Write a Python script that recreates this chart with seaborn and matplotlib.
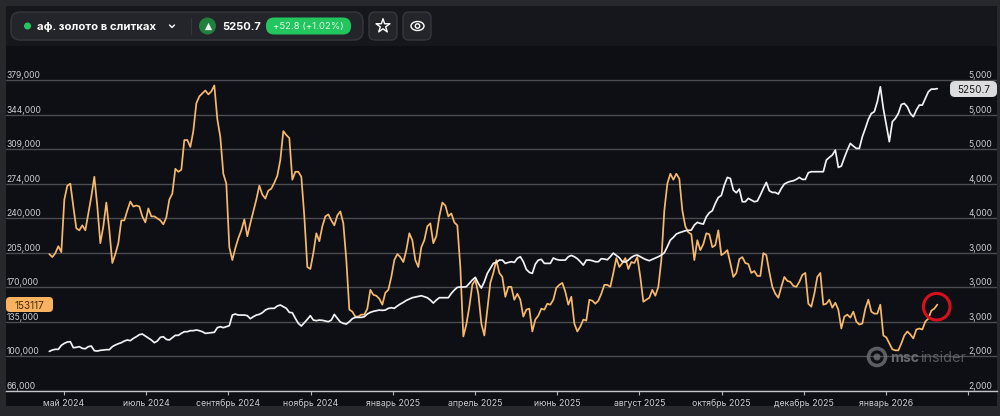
import numpy as np
import seaborn as sns
from matplotlib import pyplot as plt
from matplotlib.patches import Circle, Ellipse, FancyBboxPatch, Rectangle

# ETF holdings, thousands (left axis), one value per step
holdings_a = [204, 201, 205, 212, 206, 259, 273, 275, 252, 230, 228, 233, 228, 245, 262, 282, 252, 215, 232, 256,
              228, 195, 204, 215, 238, 238, 248, 257, 252, 253, 252, 242, 236, 250, 242, 242, 240, 238, 234, 241,
              259, 265, 290, 287, 289, 319, 319, 312, 328, 356, 363, 366, 369, 365, 368, 374, 340, 322, 285, 275,
              211, 198, 210, 220, 228, 239, 222, 235, 247, 259, 273, 264, 260, 268, 270, 276, 283, 299, 328, 324,
              321, 279, 287, 287, 282, 242, 191, 189, 205, 225, 217, 232, 242, 244, 238, 233, 243]
holdings_b = [247, 235, 198, 148, 146, 141, 141, 143, 143, 149, 168, 163, 162, 159, 153, 165, 168, 181, 198, 204,
              201, 196, 208, 225, 218, 198, 191, 211, 218, 232, 235, 215, 222, 242, 256, 253, 242, 245, 236, 233,
              191, 121, 133, 151, 173, 178, 164, 134, 122, 148, 175, 185, 198, 185, 181, 161, 171, 171, 158, 164,
              158, 141, 148, 149, 126, 138, 142, 149, 148, 154, 153, 158, 170, 173, 175, 166, 153, 161, 134, 126,
              131, 138, 137, 158, 157, 154, 157, 164, 173, 173, 171, 185, 200, 191, 195, 200, 189, 196, 195, 201,
              181, 156, 158, 160, 168, 162, 171, 198, 248, 275]
holdings_c = [285, 279, 285, 280, 248, 232, 226, 224, 198, 218, 208, 214, 225, 224, 211, 213, 228, 203, 205, 208,
              195, 181, 185, 199, 201, 195, 194, 185, 187, 182, 182, 205, 203, 186, 171, 164, 160, 171, 181, 177,
              176, 172, 171, 176, 183, 185, 154, 151, 164, 181, 185, 153, 154, 158, 150, 155, 148, 129, 141, 143,
              140, 146, 136, 133, 134, 149, 158, 146, 144, 144, 153, 122, 120, 114, 108, 107, 107, 114, 122, 126,
              123, 119, 128, 129, 128, 136, 139, 147, 149, 153.117]

# gold price (right axis)
price_a = [2206, 2222, 2230, 2230, 2276, 2299, 2315, 2318, 2249, 2253, 2261, 2241, 2237, 2261, 2268, 2214, 2210, 2218,
           2222, 2226, 2226, 2261, 2280, 2295, 2307, 2326, 2338, 2330, 2357, 2376, 2400, 2407, 2384, 2361, 2338, 2307,
           2326, 2369, 2376, 2345, 2338, 2365, 2392, 2392, 2415, 2434, 2434, 2446, 2446, 2454, 2446, 2434, 2415, 2419,
           2423, 2427, 2481, 2492, 2481, 2492, 2504, 2627, 2639, 2627, 2627, 2627, 2620, 2585, 2608, 2627, 2635, 2654,
           2685, 2701, 2705, 2705, 2732, 2743, 2724, 2705, 2658, 2654, 2589, 2531, 2500, 2538, 2577, 2620, 2569, 2562,
           2569, 2566, 2558, 2550, 2569, 2635, 2589]
price_b = [2546, 2531, 2523, 2550, 2585, 2600, 2600, 2600, 2608, 2639, 2658, 2670, 2677, 2685, 2681, 2685, 2705, 2712,
           2705, 2732, 2755, 2774, 2797, 2813, 2828, 2836, 2844, 2851, 2840, 2828, 2801, 2766, 2801, 2828, 2828, 2828,
           2828, 2878, 2917, 2948, 2952, 2952, 2955, 2994, 3033, 3064, 2994, 2940, 3013, 3110, 3168, 3226, 3237, 3264,
           3264, 3226, 3237, 3245, 3237, 3284, 3303, 3245, 3156, 3122, 3110, 3218, 3264, 3272, 3226, 3226, 3226, 3288,
           3272, 3264, 3264, 3264, 3303, 3318, 3303, 3280, 3245, 3206, 3264, 3264, 3257, 3245, 3245, 3280, 3276, 3268,
           3303, 3345, 3318, 3291, 3245, 3241, 3264, 3295, 3315, 3322, 3303, 3284, 3268, 3257, 3272, 3288, 3303, 3322,
           3349, 3419]
price_c = [3496, 3527, 3566, 3581, 3593, 3604, 3608, 3612, 3670, 3701, 3689, 3681, 3766, 3813, 3836, 3921, 3990, 4013,
           4133, 4222, 4210, 4075, 4044, 4087, 3940, 3940, 3979, 3959, 3940, 3948, 4017, 4094, 4164, 4067, 4048, 4048,
           4029, 4094, 4145, 4164, 4176, 4183, 4199, 4222, 4199, 4199, 4276, 4288, 4288, 4288, 4288, 4288, 4423, 4454,
           4481, 4539, 4338, 4353, 4450, 4539, 4616, 4585, 4558, 4558, 4693, 4790, 4894, 4963, 4983, 5100, 5272, 5021,
           4828, 4636, 4867, 4905, 4963, 5067, 5079, 5040, 4963, 4925, 5002, 5060, 5060, 5137, 5214, 5245, 5245, 5250.7]

month_labels = ["май 2024", "июль 2024", "сентябрь 2024", "ноябрь 2024", "январь 2025", "апрель 2025",
                "июнь 2025", "август 2025", "октябрь 2025", "декабрь 2025", "январь 2026", ""]
left_ticks = [66000, 100800, 135600, 170400, 205200, 240000, 274800, 309600, 344400, 379200]
right_ticks = [1747, 2147, 2547, 2947, 3347, 3747, 4147, 4547, 4947, 5347]

holdings = np.array(holdings_a + holdings_b + holdings_c) * 1000
price = np.array(price_a + price_b + price_c)
days = np.arange(len(holdings))
tick_pos = 4.9 + 27.4 * np.arange(len(month_labels))

ORANGE = "#f6b96b"
WHITE = "#f1f1f3"
LABEL = "#cfcfd2"
GRID = "#4b4c50"

sns.set_theme(style="dark")
plt.rcParams["font.family"] = ["Inter", "DejaVu Sans"]

fig = plt.figure(figsize=(10, 4.16), dpi=100, facecolor="#27282c")

# whole-figure layer in pixels for panels and header
bg = fig.add_axes([0, 0, 1, 1], zorder=0)
bg.set_xlim(0, 1000)
bg.set_ylim(416, 0)
bg.axis("off")
bg.add_patch(Rectangle((6, 6), 991, 40, fc="#16171c", ec="none"))
bg.add_patch(Rectangle((6, 46), 991, 360, fc="#0e0f14", ec="none"))


def pill(layer, x0, y0, x1, y1, r, fc, ec="none", lw=1):
    layer.add_patch(FancyBboxPatch((x0 + r, y0 + r), x1 - x0 - 2 * r, y1 - y0 - 2 * r,
                                   boxstyle=f"round,pad={r},rounding_size={r}", fc=fc, ec=ec, lw=lw))


# header
pill(bg, 11, 12, 363, 40, 9, "#24252a", "#36373c")
pill(bg, 369, 12, 397, 40, 6, "#24252a", "#36373c")
pill(bg, 403, 12, 431, 40, 6, "#24252a", "#36373c")
bg.add_patch(Circle((27.5, 26), 3.5, fc="#22c55e", ec="none"))
bg.text(37, 26, "аф. золото в слитках", color="white", fontsize=8.1, fontweight="bold", va="center_baseline")
bg.plot([169.5, 172, 174.5], [25, 27.5, 25], color="white", lw=1)
bg.plot([190.5, 190.5], [18, 34], color="#36373c", lw=0.8)
bg.add_patch(Circle((207.5, 26), 8.5, fc="#1f7f3d", ec="none"))
bg.scatter([207.5], [26], marker="^", s=28, color="#e8f5ec", linewidths=0)
bg.text(222, 26, "5250.7", color="white", fontsize=8, fontweight="bold", va="center_baseline")
pill(bg, 266, 17.5, 351, 34.5, 8, "#22c55e")
bg.text(308.5, 26, "+52.8 (+1.02%)", color="#dff7e6", fontsize=6.9, ha="center", va="center_baseline")
bg.scatter([383], [26], marker="*", s=110, facecolors="none", edgecolors="white", linewidths=1)
bg.add_patch(Ellipse((417.5, 26), 13, 9, fc="none", ec="white", lw=1))
bg.add_patch(Circle((417.5, 26), 2.2, fc="none", ec="white", lw=1))

# chart
PX_LEFT, PX_RIGHT, PX_TOP, PX_BOTTOM = 6, 997, 60, 391
ax = fig.add_axes([PX_LEFT / 1000, 1 - PX_BOTTOM / 416, (PX_RIGHT - PX_LEFT) / 1000, (PX_BOTTOM - PX_TOP) / 416],
                  zorder=2)
ax.set_facecolor("none")
sns.lineplot(x=days, y=holdings, ax=ax, color=ORANGE, linewidth=1.25, errorbar=None)
ax.set_xlim((PX_LEFT - 49.33) / 3, (PX_RIGHT - 49.33) / 3)
ax.set_ylim(66000, 66000 + 331 * 34800 / 34.52)
ax.set_yticks(left_ticks)
ax.set_yticklabels([f"{int(v // 1000)},000" for v in left_ticks])
ax.set_xticks(tick_pos)
ax.set_xticklabels(month_labels)
ax.set_xlabel("")
ax.set_ylabel("")
ax.grid(axis="y", color=GRID, lw=1)
ax.grid(axis="x", visible=False)
ax.set_axisbelow(True)
ax.tick_params(axis="x", length=3, width=0.8, color="#b5b5b8", labelsize=6.3, labelcolor=LABEL, pad=2.5, bottom=True)
ax.tick_params(axis="y", length=0, labelsize=6.1, labelcolor=LABEL, pad=-0.1)
for label in ax.get_yticklabels():
    label.set_horizontalalignment("left")
    label.set_verticalalignment("bottom")
for side in ["top", "left", "right"]:
    ax.spines[side].set_visible(False)
ax.spines["bottom"].set_color("#c5c5c8")
ax.spines["bottom"].set_linewidth(1)

ax2 = ax.twinx()
ax2.set_facecolor("none")
sns.lineplot(x=days, y=price, ax=ax2, color=WHITE, linewidth=1.25, errorbar=None)
ax2.set_ylim(1747, 1747 + 331 * 400 / 34.52)
ax2.set_yticks(right_ticks)
ax2.set_yticklabels([f"{round(v, -3):,}" for v in right_ticks])
ax2.set_ylabel("")
ax2.grid(False)
ax2.tick_params(axis="y", length=0, labelsize=6.1, labelcolor=LABEL, pad=-3.2, right=False)
for label in ax2.get_yticklabels():
    label.set_horizontalalignment("right")
    label.set_verticalalignment("bottom")
for side in ax2.spines.values():
    side.set_visible(False)

# things on top of the lines
top = fig.add_axes([0, 0, 1, 1], zorder=5)
top.set_xlim(0, 1000)
top.set_ylim(416, 0)
top.axis("off")
top.patch.set_alpha(0)
pill(top, 6, 297, 53, 312, 4, "#f9b25f")
top.text(29, 304.7, "153117", color="#4a2c08", fontsize=7.2, ha="center", va="center_baseline")
pill(top, 950, 81, 997, 97, 5, "#dcdcde")
top.text(974, 89, "5250.7", color="#1c1c20", fontsize=7.2, ha="center", va="center_baseline")
top.add_patch(Circle((936.7, 306.7), 13.3, fc="none", ec="#d8101e", lw=2.2))

# watermark
top.add_patch(Circle((877, 357), 8.5, fc="none", ec="#77787c", lw=2.6, alpha=0.75))
top.add_patch(Circle((877, 357), 3.5, fc="#77787c", ec="none", alpha=0.75))
top.text(890, 357, "msc", color="#77787c", fontsize=10.2, fontweight="bold", va="center_baseline", alpha=0.85)
top.text(920, 357, "insider", color="#77787c", fontsize=10.4, va="center_baseline", alpha=0.7)

fig.savefig("out.png", dpi=100, facecolor=fig.get_facecolor())
